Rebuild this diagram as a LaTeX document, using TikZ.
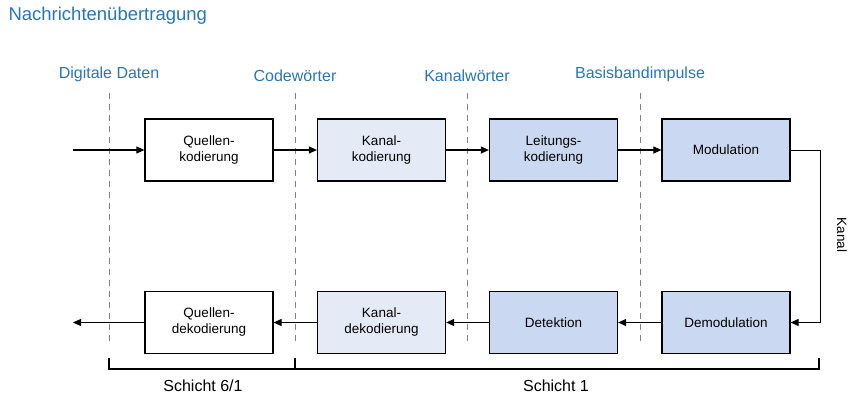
\documentclass[tikz,border=0pt]{standalone}
\usepackage{fontspec}
\setmainfont{Liberation Sans}
\usetikzlibrary{arrows.meta}
\definecolor{ttl}{RGB}{38,118,186}
\definecolor{lightb}{RGB}{228,235,247}
\definecolor{midb}{RGB}{202,217,241}
\definecolor{dgray}{RGB}{130,130,130}
\begin{document}
\begin{tikzpicture}[x=1pt,y=-1pt,
  blk/.style={draw=black,line width=1.2pt,minimum width=128pt,minimum height=62pt,inner sep=0pt,align=center,font=\fontsize{13.5}{16}\selectfont},
  wht/.style={blk,fill=white},
  lb/.style={blk,fill=lightb},
  mb/.style={blk,fill=midb},
  conn/.style={line width=1.1pt,-{Triangle[length=8pt,width=7pt]}},
  sep/.style={draw=dgray,line width=1pt,dash pattern=on 6pt off 5pt},
  toplbl/.style={text=ttl,font=\fontsize{16}{18}\selectfont},
  brk/.style={line width=1.1pt}]
\useasboundingbox (0,0) rectangle (849,400);
\node[anchor=west,text=ttl,font=\fontsize{18.5}{20}\selectfont] (title) at (5,16) {Nachrichtenübertragung};
% separators
\foreach \n/\x in {s1/109,s2/295,s3/467,s4/640}{
  \coordinate (\n t) at (\x,93);
  \coordinate (\n b) at (\x,345);
  \draw[sep] (\n t) -- (\n b);
}
\node[toplbl] (l1) at (109,74) {Digitale Daten};
\node[toplbl] (l2) at (295,76) {Codewörter};
\node[toplbl] (l3) at (467,76) {Kanalwörter};
\node[toplbl] (l4) at (640,74) {Basisbandimpulse};
% top row
\node[wht] (qk) at (209,150) {Quellen-\\kodierung};
\node[lb] (kk) at (381.5,150) {Kanal-\\kodierung};
\node[mb] (lk) at (553.5,150) {Leitungs-\\kodierung};
\node[mb] (mod) at (726,150) {Modulation};
% bottom row
\node[wht] (qd) at (209,322.5) {Quellen-\\dekodierung};
\node[lb] (kd) at (381.5,322.5) {Kanal-\\dekodierung};
\node[mb] (det) at (553.5,322.5) {Detektion};
\node[mb] (dem) at (726,322.5) {Demodulation};
\coordinate (in) at (73,150);
\coordinate (out) at (73,322.5);
\coordinate (r1) at (820,150);
\coordinate (r2) at (820,322.5);
\draw[conn] (in) -- (qk);
\draw[conn] (qk) -- (kk);
\draw[conn] (kk) -- (lk);
\draw[conn] (lk) -- (mod);
\draw[conn,line width=1pt] (mod.east) -- (r1) -- (r2) -- (dem.east);
\draw[conn] (dem) -- (det);
\draw[conn] (det) -- (kd);
\draw[conn] (kd) -- (qd);
\draw[conn] (qd) -- (out);
\node[rotate=-90,font=\fontsize{13.5}{16}\selectfont] (kanal) at (842,235) {Kanal};
% brackets
\coordinate (b1) at (109,358);
\coordinate (b1d) at (109,369);
\coordinate (b2) at (295,358);
\coordinate (b2d) at (295,369);
\coordinate (b3) at (819,358);
\coordinate (b3d) at (819,369);
\draw[brk] (b1) -- (b1d) -- (b3d) -- (b3);
\draw[brk] (b2) -- (b2d);
\node[font=\fontsize{16}{18}\selectfont] (sch61) at (203,386) {Schicht 6/1};
\node[font=\fontsize{16}{18}\selectfont] (sch1) at (556,386) {Schicht 1};
\end{tikzpicture}
\end{document}
